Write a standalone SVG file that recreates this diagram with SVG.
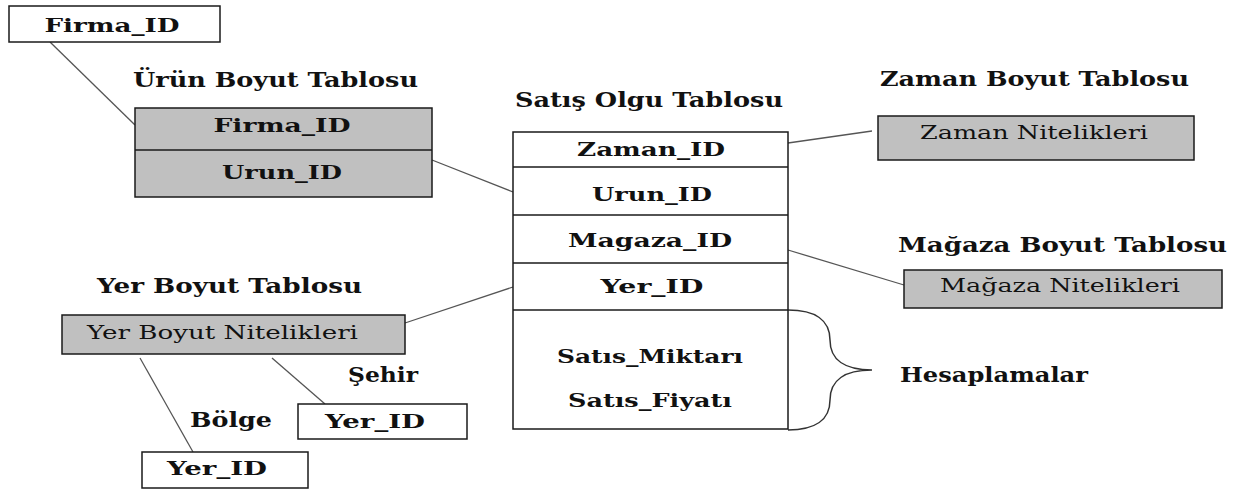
<svg xmlns="http://www.w3.org/2000/svg" width="1244" height="489" viewBox="0 0 1244 489">
  <style>
    .bg { fill: #ffffff; }
    .box { fill: #ffffff; stroke: #1a1a1a; stroke-width: 1.5; }
    .dim { fill: #c0c0c0; stroke: #1a1a1a; stroke-width: 1.5; }
    .div { stroke: #1a1a1a; stroke-width: 1.5; }
    .link { stroke: #555555; stroke-width: 1.3; fill: none; }
    .brace { stroke: #333333; stroke-width: 1.5; fill: none; }
    text { fill: #111111; font-family: "DejaVu Serif", "Liberation Serif", serif; }
    .b { font-weight: bold; font-size: 19px; }
    .t { font-weight: bold; font-size: 20px; }
    .n { font-weight: normal; font-size: 19px; }
  </style>
  <rect class="bg" x="0" y="0" width="1244" height="489"/>

  <!-- connectors between tables -->
  <g id="connectors">
    <line class="link" x1="50" y1="42" x2="135" y2="125"/>
    <line class="link" x1="432" y1="160" x2="513" y2="192"/>
    <line class="link" x1="788" y1="143" x2="872" y2="131"/>
    <line class="link" x1="788" y1="250" x2="904" y2="285"/>
    <line class="link" x1="405" y1="323" x2="513" y2="287"/>
    <line class="link" x1="140" y1="358" x2="193" y2="452"/>
    <line class="link" x1="272" y1="358" x2="325" y2="404"/>
    <path class="brace" d="M788,310 C815,310 830,320 830,340 C830,360 845,370 872,370 C845,370 830,380 830,400 C830,420 815,430 788,430"/>
  </g>

  <!-- Firma table (top left) -->
  <g id="firma">
    <rect class="box" x="9" y="6" width="211" height="36"/>
    <text class="b" x="112" y="32" text-anchor="middle" textLength="135" lengthAdjust="spacingAndGlyphs">Firma_ID</text>
  </g>

  <!-- product dimension table -->
  <g id="urun">
    <text class="t" x="133" y="87" textLength="285" lengthAdjust="spacingAndGlyphs">Ürün Boyut Tablosu</text>
    <rect class="dim" x="135" y="108" width="297" height="89"/>
    <line class="div" x1="135" y1="150" x2="432" y2="150"/>
    <text class="b" x="282" y="132" text-anchor="middle" textLength="137" lengthAdjust="spacingAndGlyphs">Firma_ID</text>
    <text class="b" x="282" y="179" text-anchor="middle" textLength="120" lengthAdjust="spacingAndGlyphs">Urun_ID</text>
  </g>

  <!-- sales fact table -->
  <g id="satis">
    <text class="t" x="515" y="107" textLength="268" lengthAdjust="spacingAndGlyphs">Satış Olgu Tablosu</text>
    <rect class="box" x="513" y="132" width="275" height="297"/>
    <line class="div" x1="513" y1="167" x2="788" y2="167"/>
    <line class="div" x1="513" y1="215" x2="788" y2="215"/>
    <line class="div" x1="513" y1="263" x2="788" y2="263"/>
    <line class="div" x1="513" y1="310" x2="788" y2="310"/>
    <text class="b" x="651" y="156" text-anchor="middle" textLength="148" lengthAdjust="spacingAndGlyphs">Zaman_ID</text>
    <text class="b" x="652" y="201" text-anchor="middle" textLength="120" lengthAdjust="spacingAndGlyphs">Urun_ID</text>
    <text class="b" x="650" y="247" text-anchor="middle" textLength="164" lengthAdjust="spacingAndGlyphs">Magaza_ID</text>
    <text class="b" x="652" y="293" text-anchor="middle" textLength="103" lengthAdjust="spacingAndGlyphs">Yer_ID</text>
    <text class="b" x="650" y="363" text-anchor="middle" textLength="186" lengthAdjust="spacingAndGlyphs">Satıs_Miktarı</text>
    <text class="b" x="650" y="407" text-anchor="middle" textLength="164" lengthAdjust="spacingAndGlyphs">Satıs_Fiyatı</text>
  </g>

  <!-- time dimension -->
  <g id="zaman">
    <text class="t" x="880" y="86" textLength="309" lengthAdjust="spacingAndGlyphs">Zaman Boyut Tablosu</text>
    <rect class="dim" x="878" y="116" width="316" height="44"/>
    <text class="n" x="920" y="139" textLength="228" lengthAdjust="spacingAndGlyphs">Zaman Nitelikleri</text>
  </g>

  <!-- store dimension -->
  <g id="magaza">
    <text class="t" x="898" y="252" textLength="329" lengthAdjust="spacingAndGlyphs">Mağaza Boyut Tablosu</text>
    <rect class="dim" x="904" y="270" width="318" height="38"/>
    <text class="n" x="940" y="292" textLength="240" lengthAdjust="spacingAndGlyphs">Mağaza Nitelikleri</text>
  </g>

  <!-- measures label -->
  <g id="hesaplamalar">
    <text class="t" x="900" y="382" textLength="188" lengthAdjust="spacingAndGlyphs">Hesaplamalar</text>
  </g>

  <!-- location dimension -->
  <g id="yer">
    <text class="t" x="97" y="293" textLength="265" lengthAdjust="spacingAndGlyphs">Yer Boyut Tablosu</text>
    <rect class="dim" x="62" y="315" width="343" height="39"/>
    <text class="n" x="87" y="339" textLength="271" lengthAdjust="spacingAndGlyphs">Yer Boyut Nitelikleri</text>
  </g>

  <!-- city level -->
  <g id="sehir">
    <text class="t" x="348" y="382" textLength="70" lengthAdjust="spacingAndGlyphs">Şehir</text>
    <rect class="box" x="298" y="404" width="169" height="35"/>
    <text class="b" x="375" y="428" text-anchor="middle" textLength="100" lengthAdjust="spacingAndGlyphs">Yer_ID</text>
  </g>

  <!-- region level -->
  <g id="bolge">
    <text class="t" x="190" y="427" textLength="82" lengthAdjust="spacingAndGlyphs">Bölge</text>
    <rect class="box" x="142" y="452" width="166" height="36"/>
    <text class="b" x="217" y="475" text-anchor="middle" textLength="100" lengthAdjust="spacingAndGlyphs">Yer_ID</text>
  </g>
</svg>
